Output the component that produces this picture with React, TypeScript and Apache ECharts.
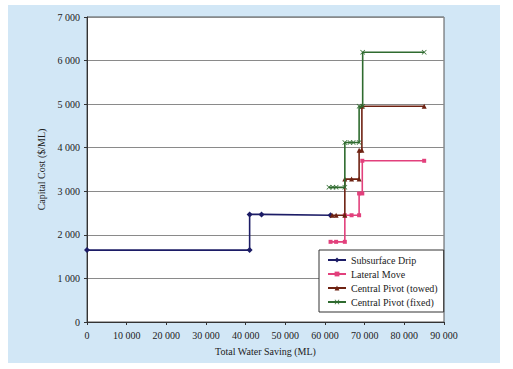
import React, { useEffect, useRef } from "react";
import * as echarts from "echarts";

const seriesNames = ["Subsurface Drip", "Lateral Move", "Central Pivot (towed)", "Central Pivot (fixed)"];

const subsurfaceDrip: [number, number][] = [
  [0, 1650], [41000, 1650], [41000, 2470], [44000, 2470], [61400, 2450],
];
const lateralMove: [number, number][] = [
  [61400, 1840], [62800, 1840], [65000, 1840], [65000, 2450], [66700, 2450],
  [68600, 2450], [68600, 2950], [69400, 2950], [69400, 3700], [85000, 3700],
];
const pivotTowed: [number, number][] = [
  [61800, 2450], [62800, 2450], [65000, 2450], [65000, 3280], [66700, 3280],
  [68600, 3280], [68600, 3940], [69300, 3940], [69300, 4950], [85000, 4950],
];
const pivotFixed: [number, number][] = [
  [61000, 3090], [62000, 3090], [62800, 3090], [65000, 3090], [65000, 4120],
  [66300, 4120], [67100, 4120], [68600, 4120], [68600, 4950], [69500, 4950],
  [69500, 6190], [85000, 6190],
];

const colors = ["#1c1c66", "#e2407c", "#6e2212", "#2f6b2f"];
const symbols = [
  "diamond",
  "rect",
  "triangle",
  "path://M0,1L1,0L5,4L9,0L10,1L6,5L10,9L9,10L5,6L1,10L0,9L4,5Z",
];
const symbolSizes = [6, 4, 5, 5];

const fmt = (v: number) => {
  if (v === 0) return "0";
  const s = String(Math.round(v));
  return s.replace(/\B(?=(\d{3})+(?!\d))/g, " ");
};

const FONT = "'Liberation Serif', 'DejaVu Serif', serif";

export default function App() {
  const ref = useRef<HTMLDivElement>(null);
  useEffect(() => {
    if (!ref.current) return;
    const chart = echarts.init(ref.current, undefined, { renderer: "svg" });
    const datas = [subsurfaceDrip, lateralMove, pivotTowed, pivotFixed];
    chart.setOption({
      animation: false,
      graphic: [
        {
          type: "rect",
          z: -10,
          silent: true,
          shape: { x: 8, y: 5, width: 492, height: 358 },
          style: { fill: "#d2e7f6" },
        },
      ],
      grid: {
        left: 87,
        top: 17,
        right: 69,
        bottom: 47,
        show: true,
        backgroundColor: "#ffffff",
        borderColor: "#555",
        borderWidth: 1,
      },
      xAxis: {
        type: "value",
        min: 0,
        max: 90000,
        interval: 10000,
        name: "Total Water Saving (ML)",
        nameLocation: "middle",
        nameGap: 24,
        nameTextStyle: { fontFamily: FONT, fontSize: 10, color: "#222" },
        axisLine: { show: true, lineStyle: { color: "#333" } },
        axisTick: { show: true, length: 3, lineStyle: { color: "#333" } },
        axisLabel: { formatter: fmt, fontFamily: FONT, fontSize: 10, color: "#222", margin: 8 },
        splitLine: { show: false },
      },
      yAxis: {
        type: "value",
        min: 0,
        max: 7000,
        interval: 1000,
        name: "Capital Cost ($/ML)",
        nameLocation: "middle",
        nameGap: 36,
        nameTextStyle: { fontFamily: FONT, fontSize: 10, color: "#222" },
        axisLine: { show: true, lineStyle: { color: "#333" } },
        axisTick: { show: true, length: 3, lineStyle: { color: "#333" } },
        axisLabel: { formatter: fmt, fontFamily: FONT, fontSize: 10, color: "#222", margin: 7 },
        splitLine: { show: true, lineStyle: { color: "#8a8a8a", width: 1 } },
      },
      legend: {
        orient: "vertical",
        left: 319,
        top: 250,
        width: 117,
        backgroundColor: "#ffffff",
        borderColor: "#333",
        borderWidth: 1,
        padding: [5, 6, 5, 8],
        itemGap: 4,
        itemWidth: 18,
        itemHeight: 6,
        textStyle: { fontFamily: FONT, fontSize: 10, color: "#222" },
        data: seriesNames,
      },
      series: datas.map((d, i) => ({
        name: seriesNames[i],
        type: "line",
        data: d,
        color: colors[i],
        symbol: symbols[i],
        symbolSize: symbolSizes[i],
        showSymbol: true,
        lineStyle: { width: 1.6, color: colors[i] },
        itemStyle: { color: colors[i] },
        z: 2 + i,
      })),
    });
    return () => chart.dispose();
  }, []);
  return (
    <div
      ref={ref}
      style={{ position: "fixed", left: 0, top: 0, width: 513, height: 369, background: "#fff" }}
    />
  );
}
